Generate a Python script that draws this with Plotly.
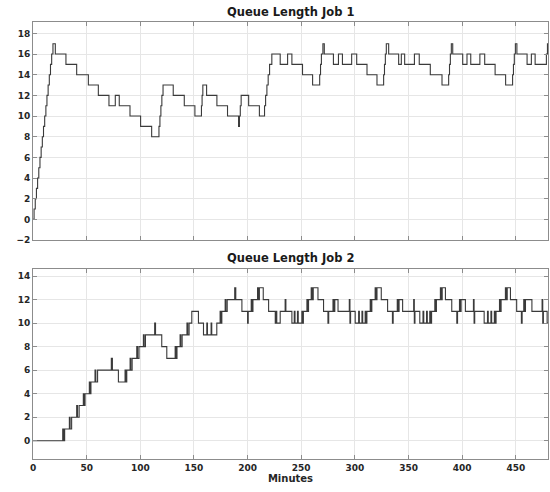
import plotly.graph_objects as go

# ---------------- data (event times in minutes, queue length after event) -------------
T_END = 480

job1_t = [0, 1.0, 2.1, 3.2, 4.3, 5.4, 6.5, 7.6, 8.7, 9.8, 10.9, 12.0, 13.0, 14.1, 15.2, 16.3, 17.4, 18.6,
          20.8, 30.7, 40.7, 51.6, 60.9, 70.8, 76.7, 80.4, 90.4, 100.3, 110.6,
          117.4, 118.3, 119.2, 120.1, 121.2, 130.7, 141.0, 150.9,
          157.0, 157.6, 158.3, 161.8, 171.4, 181.3, 191.6, 192.4, 193.2, 194.0, 201.0, 211.0,
          215.8, 216.8, 218.0, 219.2, 220.5, 222.6, 230.4, 237.3, 241.3, 251.2, 260.6,
          267.2, 268.0, 268.8, 270.2, 271.5, 280.0, 284.7, 288.4, 297.0, 301.7, 311.3, 320.6,
          326.8, 327.6, 328.4, 329.3, 331.5, 340.8, 343.3, 346.4, 355.5, 360.0, 370.3, 381.2,
          387.4, 388.2, 389.0, 389.9, 391.2, 400.5, 404.5, 408.0, 416.5, 421.0, 430.7, 440.5,
          447.0, 447.8, 448.6, 449.6, 451.0, 460.5, 464.5, 468.0, 478.5, 479.5]
job1_q = [0, 1, 2, 3, 4, 5, 6, 7, 8, 9, 10, 11, 12, 13, 14, 15, 16, 17,
          16, 15, 14, 13, 12, 11, 12, 11, 10, 9, 8,
          9, 10, 11, 12, 13, 12, 11, 10,
          11, 12, 13, 12, 11, 10, 9, 10, 11, 12, 11, 10,
          11, 12, 13, 14, 15, 16, 15, 16, 15, 14, 13,
          14, 15, 16, 17, 16, 15, 16, 15, 16, 15, 14, 13,
          14, 15, 16, 17, 16, 15, 16, 15, 16, 15, 14, 13,
          14, 15, 16, 17, 16, 15, 16, 15, 16, 15, 14, 13,
          14, 15, 16, 17, 16, 15, 16, 15, 16, 17]

job2_t = [0, 27.7, 28.5, 29.5, 33.9, 34.6, 36.0, 40.7, 41.5, 43.0, 46.9, 47.6, 48.5,
          52.5, 53.2, 54.0, 57.8, 58.6, 60.2, 73.0, 74.0, 79.6, 85.8, 86.6, 87.4,
          90.5, 91.2, 92.4, 96.7, 97.5, 98.8, 102.9, 103.6, 104.8, 113.4, 114.2,
          120.0, 124.7, 132.5, 133.3, 134.2, 137.1, 137.8, 139.0, 143.5, 144.3, 145.5,
          148.0, 154.2, 158.9, 162.0, 162.6, 166.0, 166.6, 171.3, 174.4, 175.2, 176.0,
          179.1, 179.8, 181.0, 188.0, 189.0, 194.7, 200.0, 200.6,
          203.4, 204.2, 205.0, 209.3, 210.2, 211.0, 214.6, 219.6, 225.8, 226.5, 227.2,
          230.4, 235.0, 235.7, 241.3, 243.5, 244.2, 246.5, 247.2,
          250.6, 251.3, 252.0, 255.3, 256.0, 256.8, 259.3, 260.3, 261.2,
          265.6, 270.8, 274.9, 275.6, 279.6, 280.5, 281.3, 284.3, 294.8, 295.4, 296.0,
          300.3, 303.5, 304.2, 306.6, 307.3, 309.6, 310.3, 311.2, 314.3, 315.0, 315.8,
          318.9, 319.8, 320.6, 324.6, 330.5, 335.0, 335.7, 339.5, 340.4, 341.2, 344.5,
          354.8, 355.4, 356.0, 360.5, 363.5, 364.2, 366.8, 367.5, 369.8, 370.5, 371.5,
          374.5, 375.2, 376.0, 379.7, 380.6, 381.4, 384.4, 390.3, 395.0, 395.7,
          397.5, 398.3, 399.0, 403.0, 410.5, 411.1, 411.7, 420.5, 423.6, 424.3, 426.8,
          427.5, 430.0, 430.7, 431.6, 434.8, 435.5, 436.3,
          440.3, 441.2, 442.0, 445.0, 450.8, 455.2, 455.9, 457.4, 458.2, 459.0, 465.0,
          474.5, 475.1, 475.7, 479.2]
job2_q = [0, 1, 0, 1, 2, 1, 2, 3, 2, 3, 4, 3, 4,
          5, 4, 5, 6, 5, 6, 7, 6, 5, 6, 5, 6,
          7, 6, 7, 8, 7, 8, 9, 8, 9, 10, 9,
          8, 7, 8, 7, 8, 9, 8, 9, 10, 9, 10,
          11, 10, 9, 10, 9, 10, 9, 10, 11, 10, 11,
          12, 11, 12, 13, 12, 11, 10, 11,
          12, 11, 12, 13, 12, 13, 12, 11, 10, 11, 10,
          11, 12, 11, 10, 11, 10, 11, 10,
          11, 10, 11, 12, 11, 12, 13, 12, 13,
          12, 11, 10, 11, 12, 11, 12, 11, 12, 10, 11,
          10, 11, 10, 11, 10, 11, 10, 11, 12, 11, 12,
          13, 12, 13, 12, 11, 10, 11, 12, 11, 12, 11,
          12, 10, 11, 10, 11, 10, 11, 10, 11, 10, 11,
          12, 11, 12, 13, 12, 13, 12, 11, 10, 11,
          12, 11, 12, 11, 12, 10, 11, 10, 11, 10, 11,
          10, 11, 10, 11, 12, 11, 12,
          13, 12, 13, 12, 11, 10, 11, 12, 11, 12, 11,
          12, 10, 11, 10]

x_ticks = [0, 50, 100, 150, 200, 250, 300, 350, 400, 450]
y1_ticks = [-2, 0, 2, 4, 6, 8, 10, 12, 14, 16, 18]
y2_ticks = [0, 2, 4, 6, 8, 10, 12, 14]

titles = ["Queue Length Job 1", "Queue Length Job 2"]
x_label = "Minutes"

# ---------------- figure ----------------
LINE = "#3a3a3a"
FONT = "DejaVu Sans"
tickfont = dict(family=FONT, size=9, color="#262626", weight="bold")

fig = go.Figure()
fig.add_trace(go.Scatter(x=job1_t + [T_END], y=job1_q + [job1_q[-1]], mode="lines",
                         line=dict(color=LINE, width=1.1, shape="hv"),
                         xaxis="x", yaxis="y", showlegend=False))
fig.add_trace(go.Scatter(x=job2_t + [T_END], y=job2_q + [job2_q[-1]], mode="lines",
                         line=dict(color=LINE, width=1.1, shape="hv"),
                         xaxis="x2", yaxis="y2", showlegend=False))

axis_common = dict(showline=True, linecolor="#8c8c8c", linewidth=1, mirror="ticks",
                   ticks="inside", ticklen=4, tickcolor="#8c8c8c", automargin=False,
                   showgrid=True, gridcolor="#e6e6e6", gridwidth=1, zeroline=False,
                   tickfont=tickfont)

fig.update_layout(
    width=550, height=492,
    margin=dict(l=33, r=2, t=22, b=33, autoexpand=False),
    paper_bgcolor="white", plot_bgcolor="white",
    xaxis=dict(domain=[0, 1], anchor="y", range=[0, T_END], tickvals=x_ticks,
               showticklabels=False, **axis_common),
    yaxis=dict(domain=[0.5011, 1], anchor="x", range=[-2, 19.1], tickvals=y1_ticks,
               **axis_common),
    xaxis2=dict(domain=[0, 1], anchor="y2", range=[0, T_END], tickvals=x_ticks,
                title=dict(text=x_label, font=dict(family=FONT, size=10, color="#262626", weight="bold"),
                           standoff=2),
                **axis_common),
    yaxis2=dict(domain=[0, 0.4348], anchor="x2", range=[-1.55, 14.6], tickvals=y2_ticks,
                **axis_common),
    annotations=[
        dict(text=titles[0], x=0.5, xref="paper", y=1, yref="paper", yshift=10,
             yanchor="middle", showarrow=False,
             font=dict(family=FONT, size=11.5, color="#1a1a1a", weight="bold")),
        dict(text=titles[1], x=0.5, xref="paper", y=0.4348, yref="paper", yshift=11,
             yanchor="middle", showarrow=False,
             font=dict(family=FONT, size=11.5, color="#1a1a1a", weight="bold")),
    ],
)

fig.write_html("out.html", config={"displayModeBar": False},
               post_script="document.body.style.margin='0';document.body.style.overflow='hidden';")
